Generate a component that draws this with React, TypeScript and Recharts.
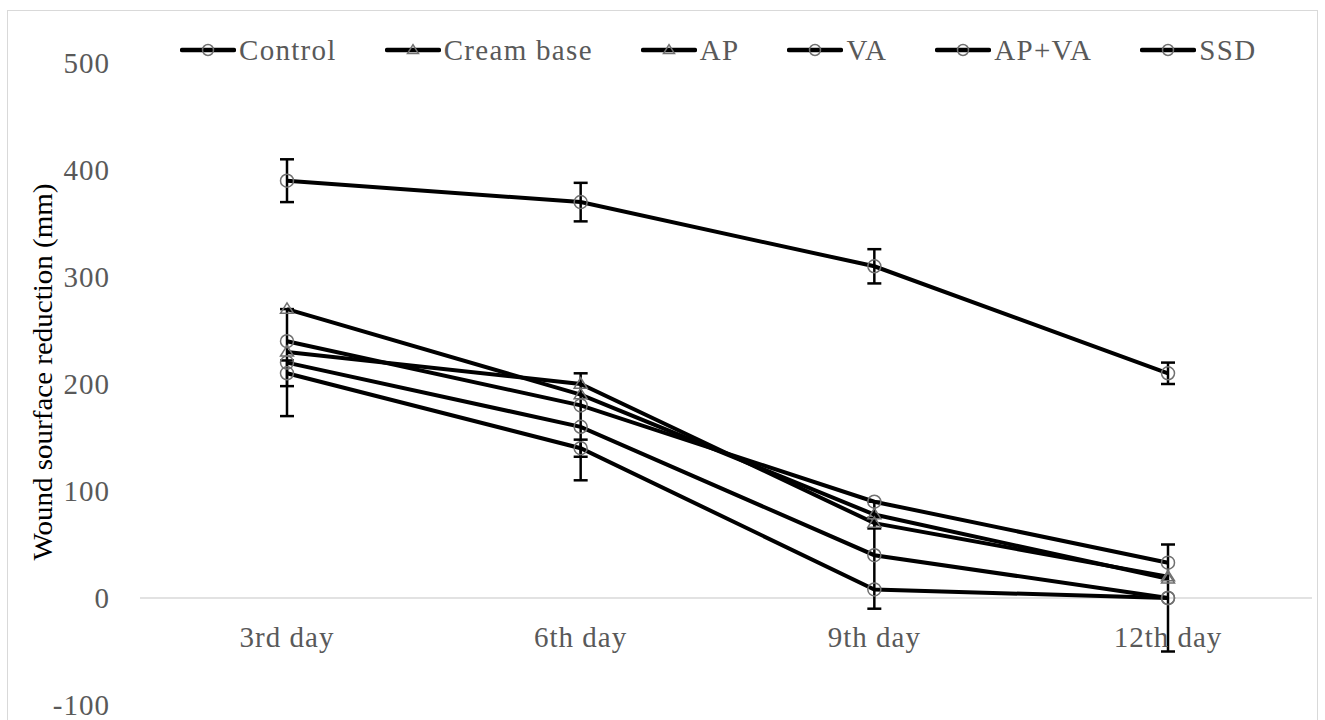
import React from 'react';
import { LineChart, Line, XAxis, YAxis, ErrorBar, ReferenceLine, Legend } from 'recharts';

const days = ['3rd day', '6th day', '9th day', '12th day'];

const control = [390, 370, 310, 210];
const controlErr = [20, 18, 16, 10];
const creamBase = [230, 200, 70, 20];
const creamBaseErr = [0, 0, 5, 0];
const ap = [270, 190, 78, 18];
const apErr = [0, 0, 0, 0];
const va = [240, 180, 90, 33];
const vaErr = [0, 0, 0, 0];
const apVa = [220, 160, 40, 0];
const apVaErr = [50, 50, 50, 50];
const ssd = [210, 140, 8, 0];
const ssdErr = [12, 8, 0, 0];

const yTicks = [-100, 0, 100, 200, 300, 400, 500];

const series = [
  { key: 'control', name: 'Control', values: control, errors: controlErr, marker: 'circle' },
  { key: 'creamBase', name: 'Cream base', values: creamBase, errors: creamBaseErr, marker: 'triangle' },
  { key: 'ap', name: 'AP', values: ap, errors: apErr, marker: 'triangle' },
  { key: 'va', name: 'VA', values: va, errors: vaErr, marker: 'circle' },
  { key: 'apVa', name: 'AP+VA', values: apVa, errors: apVaErr, marker: 'circle' },
  { key: 'ssd', name: 'SSD', values: ssd, errors: ssdErr, marker: 'circle' },
];

const data = days.map((day, i) => {
  const row: any = { day };
  series.forEach((s) => {
    row[s.key] = s.values[i];
    row[s.key + 'Err'] = s.errors[i] || null;
  });
  return row;
});

const FONT = '"Liberation Serif", "Times New Roman", serif';
const GRAY = '#595959';
const MARKER = '#707070';

const Marker = ({ cx, cy, type, r = 6.5 }: any) => {
  if (cx == null || cy == null) return null;
  if (type === 'triangle') {
    const h = r * 1.6;
    return (
      <path
        d={`M${cx},${cy - h * 0.6} L${cx + r},${cy + h * 0.4} L${cx - r},${cy + h * 0.4} Z`}
        fill="none"
        stroke={MARKER}
        strokeWidth={1.5}
      />
    );
  }
  return <circle cx={cx} cy={cy} r={r} fill="none" stroke={MARKER} strokeWidth={1.5} />;
};

// x labels sit just under the zero line, not at the bottom of the plot
const XTick = ({ x, payload }: any) => (
  <text x={x} y={647} textAnchor="middle" fill={GRAY} fontFamily={FONT} fontSize={29} letterSpacing={1}>
    {payload.value}
  </text>
);

const YTick = ({ x, y, payload }: any) => (
  <text x={x} y={y + 10} textAnchor="end" fill={GRAY} fontFamily={FONT} fontSize={29} letterSpacing={1}>
    {payload.value}
  </text>
);

const YLabel = () => {
  const cy = 372;
  return (
    <text
      x={42}
      y={cy}
      transform={`rotate(-90, 42, ${cy})`}
      textAnchor="middle"
      dominantBaseline="central"
      fill="#000"
      fontFamily={FONT}
      fontSize={28}
      textLength={377}
      lengthAdjust="spacingAndGlyphs"
    >
      Wound sourface reduction (mm)
    </text>
  );
};

const LegendContent = () => (
  <div style={{ display: 'flex', alignItems: 'center', fontFamily: FONT, whiteSpace: 'nowrap' }}>
    {series.map((s) => (
      <div key={s.key} style={{ display: 'flex', alignItems: 'center', marginRight: 48 }}>
        <svg width={56} height={16}>
          <line x1={2} y1={8} x2={54} y2={8} stroke="#000" strokeWidth={4.5} strokeLinecap="round" />
          <Marker cx={28} cy={8} type={s.marker} r={5.5} />
        </svg>
        <span style={{ color: GRAY, fontSize: 29, letterSpacing: 1.3, marginLeft: 3, lineHeight: '34px' }}>
          {s.name}
        </span>
      </div>
    ))}
  </div>
);

export default function App() {
  return (
    <div style={{ position: 'absolute', left: 0, top: 0, width: 1325, height: 720, background: '#fff' }}>
      <div
        style={{
          position: 'absolute',
          left: 7,
          top: 10,
          width: 1311,
          height: 712,
          border: '1.5px solid #d9d9d9',
          boxSizing: 'border-box',
        }}
      />
      <LineChart
        width={1325}
        height={720}
        data={data}
        margin={{ top: 63, right: 13, bottom: 0, left: 80 }}
        style={{ position: 'absolute', left: 0, top: 0 }}
      >
        <ReferenceLine y={0} stroke="#d9d9d9" strokeWidth={1.5} />
        <XAxis
          dataKey="day"
          height={15}
          axisLine={false}
          tickLine={false}
          tick={<XTick />}
          interval={0}
          padding={{ left: 147, right: 144 }}
        />
        <YAxis
          width={60}
          domain={[-100, 500]}
          ticks={yTicks}
          axisLine={false}
          tickLine={false}
          tickSize={0}
          tickMargin={30}
          tick={<YTick />}
          label={<YLabel />}
        />
        <Legend
          verticalAlign="middle"
          align="center"
          layout="horizontal"
          wrapperStyle={{ position: 'absolute', top: 33, left: 180, width: 'auto' }}
          content={<LegendContent />}
        />
        {series.map((s) => (
          <Line
            key={s.key}
            dataKey={s.key}
            name={s.name}
            stroke="#000"
            strokeWidth={4}
            isAnimationActive={false}
            dot={(p: any) => <Marker key={p.index} cx={p.cx} cy={p.cy} type={s.marker} />}
            activeDot={false}
          >
            <ErrorBar dataKey={s.key + 'Err'} width={7} stroke="#000" strokeWidth={2.5} />
          </Line>
        ))}
      </LineChart>
    </div>
  );
}
